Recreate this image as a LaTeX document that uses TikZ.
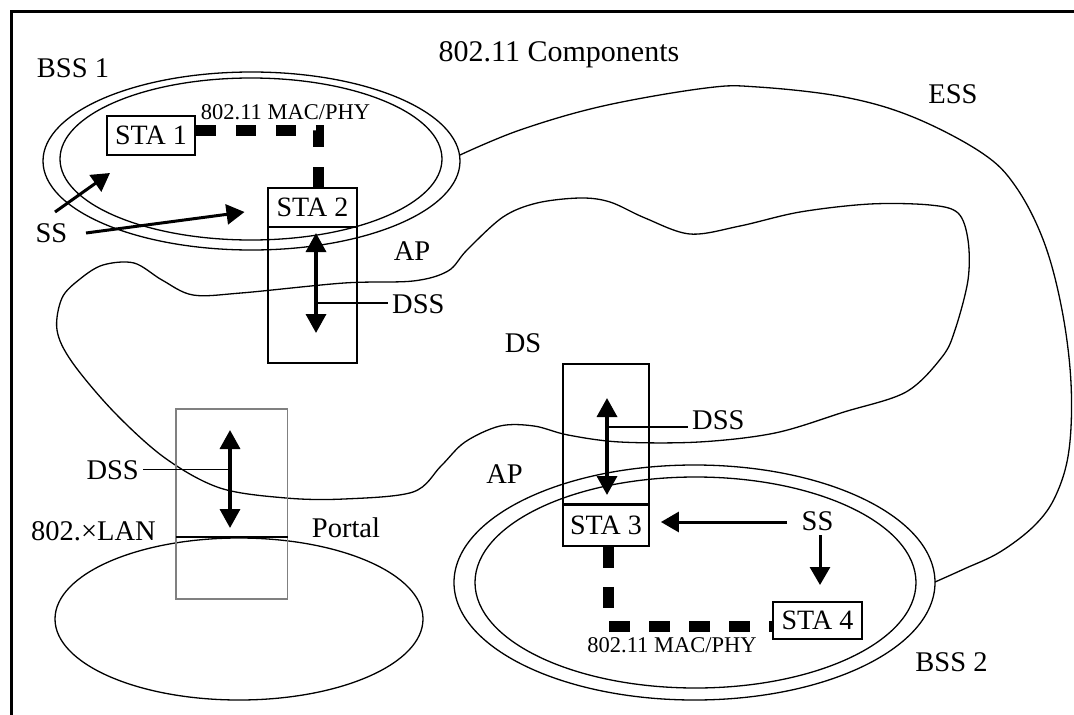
\documentclass[tikz,border=0pt]{standalone}
\usepackage{fontspec}
\setmainfont{Liberation Serif}
\usetikzlibrary{arrows.meta}
\tikzset{
  lbl/.style={font=\fontsize{28.5pt}{30pt}\selectfont, inner sep=0pt, anchor=base},
  titlelbl/.style={font=\fontsize{30pt}{32pt}\selectfont, inner sep=0pt, anchor=base},
  dsslbl/.style={lbl, inner xsep=4pt},
  maclbl/.style={font=\fontsize{22.5pt}{24pt}\selectfont, inner sep=0pt, anchor=base},
  stabox/.style={draw, line width=1.8pt, inner sep=0pt, font=\fontsize{28pt}{30pt}\selectfont},
  apbox/.style={draw, line width=1.6pt, inner sep=0pt},
  portalbox/.style={draw=black!50, line width=1.8pt, inner sep=0pt},
  thinline/.style={line width=1.3pt},
  macphy/.style={line width=11pt, dash pattern=on 20pt off 20pt},
  macphytwo/.style={line width=11pt, dash pattern=on 21pt off 19pt},
  dblarrow/.style={line width=3.5pt, {Triangle[length=19pt,width=20pt]}-{Triangle[length=19pt,width=20pt]}},
  ssarrow/.style={line width=3pt, -{Triangle[length=18pt,width=20pt]}}
}
\begin{document}
\begin{tikzpicture}[x=1pt, y=-1pt]
\useasboundingbox (0,0) rectangle (1074,715);
\fill[white] (0,0) rectangle (1074,715);
% frame
\draw[line width=3pt] (11,715) -- (11,11) -- (1074,11);

% ellipses
\draw[thinline] (251.5,161) ellipse [x radius=208.5, y radius=89];
\draw[thinline] (251,159) ellipse [x radius=191, y radius=81];
\draw[thinline] (239,619) ellipse [x radius=184, y radius=81];
\draw[thinline] (694.5,582.5) ellipse [x radius=240.5, y radius=117.5];
\draw[thinline] (695.5,582.5) ellipse [x radius=220.5, y radius=105.5];

% ESS curve
\draw[thinline] plot[smooth, tension=0.6] coordinates {(460,155) (520,130) (603,106) (706,88) (758,87) (844,97) (913,117) (982,153) (1016,187) (1044,242) (1062,310) (1071,383) (1069,450) (1056,495) (1035,525) (1000,552) (964,569) (935,582)};

% DS curve
\draw[thinline] plot[smooth cycle, tension=0.55] coordinates {(57,330) (62,298) (80,279) (103,265) (134,263) (162,280) (193,295) (241,293) (344,283) (413,281) (448,271) (467,250) (503,217) (537,203) (580,198) (610,202) (645,218) (690,234) (740,226) (800,212) (870,204) (930,205) (958,213) (968,240) (968,280) (955,330) (942,357) (906,392) (844,412) (775,433) (699,442) (620,442) (568,435) (534,426) (500,426) (465,442) (441,466) (413,492) (344,499) (286,498) (220,488) (165,458) (114,412) (72,362)};

% boxes
\node[stabox, minimum width=88pt, minimum height=39pt] (sta1) at (151,135.5) {STA 1};
\node[stabox, minimum width=89pt, minimum height=39pt] (sta2) at (312.5,207.5) {STA 2};
\node[apbox, minimum width=89pt, minimum height=136pt] (ap1) at (312.5,295) {};
\node[stabox, minimum width=86pt, minimum height=42pt] (sta3) at (606,525) {STA 3};
\node[apbox, minimum width=86pt, minimum height=140pt] (ap2) at (606,434) {};
\draw[line width=3pt] (ap2.south west) -- (ap2.south east);
\node[stabox, minimum width=89pt, minimum height=37pt] (sta4) at (817.5,620.5) {STA 4};
\node[portalbox, minimum width=111.5pt, minimum height=190pt] (portal) at (231.75,504) {};
\coordinate (pl) at (176,537);
\coordinate (pr) at (287.5,537);
\draw[line width=2.2pt] (pl) -- (pr);

% labels
\node[titlelbl] (title) at (559,61) {802.11 Components};
\node[lbl] (bss1) at (73,77) {BSS 1};
\node[lbl] (ess) at (953,103) {ESS};
\node[maclbl] (mac1) at (285.5,119) {802.11 MAC/PHY};
\node[lbl] (apone) at (412,260) {AP};
\node[dsslbl, anchor=base west] (dss1) at (388,313) {DSS};
\node[lbl] (ss1) at (51.5,242) {SS};
\node[lbl] (ds) at (523,352) {DS};
\node[dsslbl, anchor=base east] (dss2) at (143,479) {DSS};
\node[lbl] (lan) at (93.5,540) {802.×LAN};
\node[lbl] (portallbl) at (346,537) {Portal};
\node[lbl] (aptwo) at (504.5,483) {AP};
\node[dsslbl, anchor=base west] (dss3) at (688,429) {DSS};
\node[lbl] (ss2) at (817.5,530) {SS};
\node[maclbl] (mac2) at (672,652.5) {802.11 MAC/PHY};
\node[lbl] (bss2) at (951.5,671) {BSS 2};

% MAC/PHY links
\coordinate (c1) at (318.5,130);
\draw[macphy] (sta1.east |- c1) -- (c1) -- (c1 |- sta2.north);
\coordinate (c2) at (608.5,626);
\draw[macphytwo] (c2 |- sta3.south) -- (c2) -- (c2 -| sta4.west);

% DSS arrows
\coordinate (a1t) at (316,233);
\coordinate (a1b) at (316,333);
\draw[dblarrow] (a1t) -- (a1b);
\coordinate (d1) at (316,303);
\draw[thinline] (d1) -- (d1 -| dss1.west);

\coordinate (a2t) at (230,430);
\coordinate (a2b) at (230,528);
\draw[dblarrow] (a2t) -- (a2b);
\coordinate (d2) at (230,469.5);
\draw[thinline] (d2) -- (d2 -| dss2.east);

\coordinate (a3t) at (607,398);
\coordinate (a3b) at (607,495);
\draw[dblarrow] (a3t) -- (a3b);
\coordinate (d3) at (607,427);
\draw[thinline] (d3) -- (d3 -| dss3.west);

% SS arrows
\coordinate (s1a) at (55,212);
\coordinate (s1b) at (110,173);
\draw[ssarrow] (s1a) -- (s1b);
\coordinate (s2a) at (86,233);
\coordinate (s2b) at (244.5,212);
\draw[ssarrow] (s2a) -- (s2b);
\coordinate (s3a) at (787,522);
\draw[ssarrow] (s3a) -- ([xshift=11pt]sta3.east |- s3a);
\coordinate (s4a) at (820,535);
\coordinate (s4b) at (820,585);
\draw[ssarrow] (s4a) -- (s4b);
\end{tikzpicture}
\end{document}
